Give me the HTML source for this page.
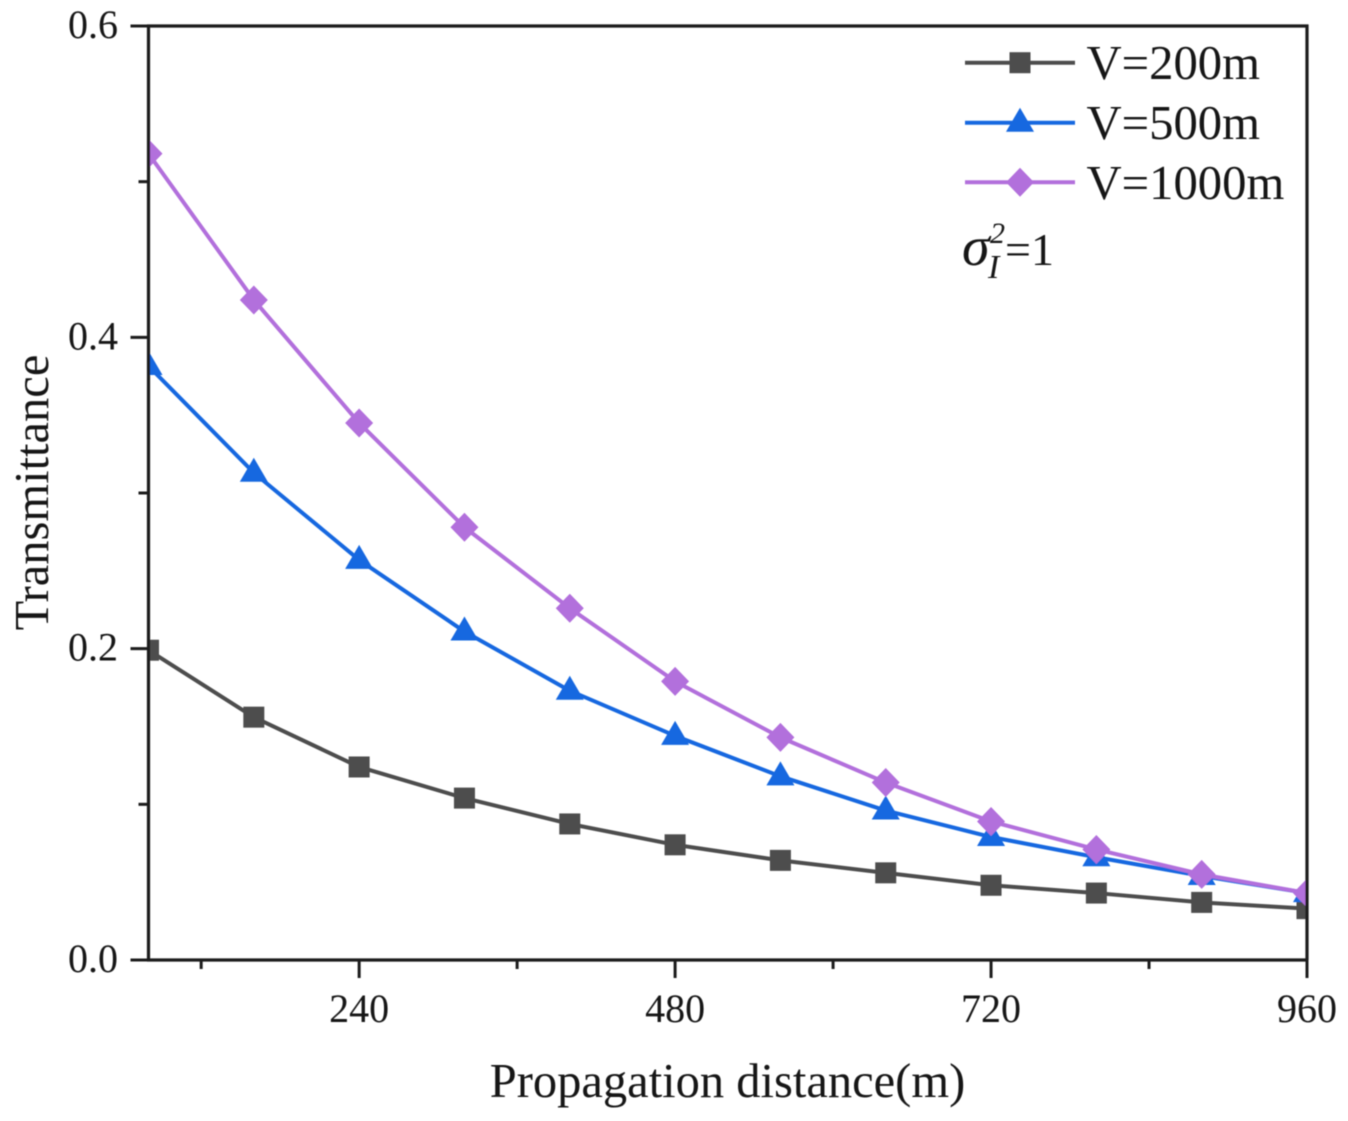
<!DOCTYPE html>
<html lang="en">
<head>
<meta charset="utf-8">
<title>Transmittance vs propagation distance</title>
<style>
html,body{margin:0;padding:0;background:#fff;width:1348px;height:1121px;overflow:hidden}
svg{display:block}
text{font-family:"Liberation Serif",serif;fill:#141414}
</style>
</head>
<body>
<svg id="chart" xmlns="http://www.w3.org/2000/svg" width="1348" height="1121" viewBox="0 0 1348 1121">
  <defs>
    <clipPath id="plot-clip"><rect x="148" y="26" width="1159" height="934"/></clipPath>
    <filter id="soft" x="-5%" y="-5%" width="110%" height="110%"><feGaussianBlur stdDeviation="0.55"/></filter>
  </defs>
  <rect width="1348" height="1121" fill="#fff"/>
  <g id="root" filter="url(#soft)">
    <g id="series-layer" clip-path="url(#plot-clip)"></g>
    <g id="axis-layer"></g>
    <g id="legend-layer"></g>
    <text x="727.5" y="1097" font-size="48.5" text-anchor="middle">Propagation distance(m)</text>
    <text x="48" y="492.5" font-size="48.5" text-anchor="middle" transform="rotate(-90 48 492.5)">Transmittance</text>
    <g>
      <text x="962" y="265" font-size="56" font-style="italic">σ</text>
      <text x="990" y="243" font-size="30" font-style="italic">2</text>
      <text x="988" y="278" font-size="34" font-style="italic">I</text>
      <text x="1005" y="265" font-size="46">=1</text>
    </g>
  </g>
  <script>
    const distances = [80, 160, 240, 320, 400, 480, 560, 640, 720, 800, 880, 960];
    const v200 = [0.199, 0.156, 0.124, 0.104, 0.0874, 0.074, 0.064, 0.056, 0.048, 0.043, 0.037, 0.033];
    const v500 = [0.3816, 0.313, 0.257, 0.211, 0.173, 0.144, 0.118, 0.096, 0.079, 0.066, 0.054, 0.043];
    const v1000 = [0.518, 0.424, 0.345, 0.278, 0.226, 0.179, 0.143, 0.114, 0.089, 0.071, 0.055, 0.043];
    const xMajorTicks = [240, 480, 720, 960];
    const xMinorTicks = [120, 360, 600, 840];
    const yMajorTicks = [0, 0.2, 0.4, 0.6];
    const yMinorTicks = [0.1, 0.3, 0.5];
    const legendLabels = ['V=200m', 'V=500m', 'V=1000m'];

    const NS = 'http://www.w3.org/2000/svg';
    const X0 = 148.5, X1 = 1307, Y0 = 960, Y1 = 26;
    const xMin = 80, xMax = 960, yMin = 0, yMax = 0.6;
    function sx(v) { return X0 + (v - xMin) / (xMax - xMin) * (X1 - X0); }
    function sy(v) { return Y0 - (v - yMin) / (yMax - yMin) * (Y0 - Y1); }
    function make(tag, parent, attrs) {
      const el = document.createElementNS(NS, tag);
      Object.keys(attrs).forEach(function (k) { el.setAttribute(k, attrs[k]); });
      parent.appendChild(el);
      return el;
    }
    function marker(kind, parent, x, y, color) {
      let el;
      if (kind === 'square') {
        el = make('rect', parent, { x: x - 10.5, y: y - 10.5, width: 21, height: 21, fill: color });
      } else if (kind === 'triangle') {
        el = make('polygon', parent, { points: (x - 14) + ',' + (y + 9) + ' ' + (x + 14) + ',' + (y + 9) + ' ' + x + ',' + (y - 15), fill: color });
      } else {
        el = make('polygon', parent, { points: (x - 14) + ',' + y + ' ' + x + ',' + (y - 14.5) + ' ' + (x + 14) + ',' + y + ' ' + x + ',' + (y + 14.5), fill: color });
      }
      return el;
    }

    const seriesLayer = document.getElementById('series-layer');
    const axisLayer = document.getElementById('axis-layer');
    const legendLayer = document.getElementById('legend-layer');

    const seriesValues = [v200, v500, v1000];
    const seriesColors = ['#4d4d4d', '#1668e0', '#b26fdc'];
    const seriesKinds = ['square', 'triangle', 'diamond'];
    const seriesKeys = ['v200', 'v500', 'v1000'];

    seriesValues.forEach(function (vals, s) {
      const group = make('g', seriesLayer, {});
      
      
      const pts = vals.map(function (v, i) { return sx(distances[i]).toFixed(2) + ',' + sy(v).toFixed(2); }).join(' ');
      const line = make('polyline', group, { points: pts, fill: 'none', stroke: seriesColors[s], 'stroke-width': 4, 'stroke-linejoin': 'round' });
      
      
      vals.forEach(function (v, i) {
        const m = marker(seriesKinds[s], group, sx(distances[i]), sy(v), seriesColors[s]);
        
        
      });
    });

    const axisColor = '#1c1c1c';
    function axisLine(name, x1, y1, x2, y2, w) {
      const l = make('line', axisLayer, { x1: x1, y1: y1, x2: x2, y2: y2, stroke: axisColor, 'stroke-width': w });
      
      
    }
    axisLine('plot-top-border', X0 - 1.5, Y1, X1 + 1.5, Y1, 3.2);
    axisLine('plot-right-border', X1, Y1 - 1.5, X1, Y0, 3.2);
    axisLine('y-axis-line', X0, Y1 - 1.5, X0, Y0 + 1.5, 3.2);
    axisLine('x-axis-line', X0 - 1.5, Y0, X1 + 1.5, Y0, 3.2);

    xMajorTicks.forEach(function (v) {
      axisLine('x-tick-' + v, sx(v), Y0, sx(v), Y0 + 18, 3);
      const t = make('text', axisLayer, { x: sx(v), y: 1022, 'font-size': 40, 'text-anchor': 'middle' });
      t.textContent = String(v);
      
      
    });
    xMinorTicks.forEach(function (v) {
      axisLine('x-minor-tick-' + v, sx(v), Y0, sx(v), Y0 + 9, 3);
    });
    yMajorTicks.forEach(function (v) {
      axisLine('y-tick-' + v.toFixed(1), X0 - 18, sy(v), X0, sy(v), 3);
      const t = make('text', axisLayer, { x: 118, y: sy(v) + 12, 'font-size': 40, 'text-anchor': 'end' });
      t.textContent = v.toFixed(1);
      
      
    });
    yMinorTicks.forEach(function (v) {
      axisLine('y-minor-tick-' + v.toFixed(1), X0 - 10, sy(v), X0, sy(v), 3);
    });

    const legendRows = [62.7, 122.7, 182.3];
    legendLabels.forEach(function (label, s) {
      const y = legendRows[s];
      const row = make('g', legendLayer, {});
      
      
      make('line', row, { x1: 965, y1: y, x2: 1075, y2: y, stroke: seriesColors[s], 'stroke-width': 4, 'stroke-linecap': 'butt' });
      marker(seriesKinds[s], row, 1020, y, seriesColors[s]);
      const t = make('text', row, { x: 1086.5, y: y + 16.5, 'font-size': 48.7 });
      t.textContent = label;
    });
  </script>
</svg>
</body>
</html>
